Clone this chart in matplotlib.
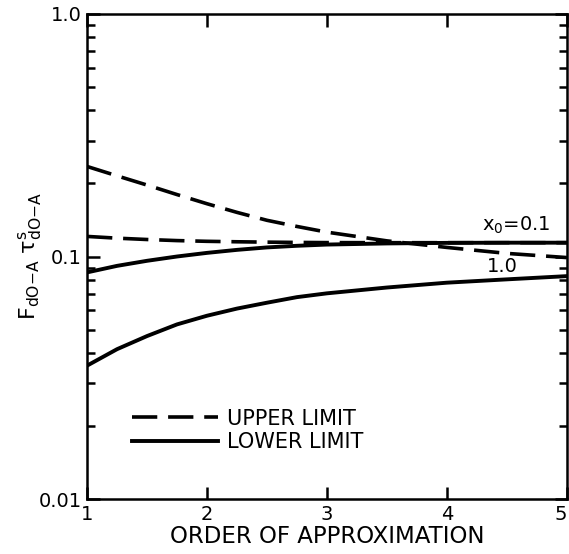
import matplotlib.pyplot as plt

# data
order = [1, 1.25, 1.5, 1.75, 2, 2.25, 2.5, 2.75, 3, 3.5, 4, 4.5, 5]
upper_x10 = [0.235, 0.215, 0.197, 0.180, 0.165, 0.152, 0.141, 0.133, 0.126, 0.116, 0.109, 0.103, 0.099]
upper_x01 = [0.121, 0.119, 0.1175, 0.1163, 0.1155, 0.115, 0.1146, 0.1143, 0.1141, 0.114, 0.114, 0.114, 0.114]
lower_x01 = [0.086, 0.0915, 0.096, 0.100, 0.1035, 0.1065, 0.109, 0.1107, 0.112, 0.1132, 0.1138, 0.114, 0.114]
lower_x10 = [0.0355, 0.0415, 0.047, 0.0525, 0.057, 0.061, 0.0645, 0.068, 0.0705, 0.0745, 0.078, 0.0805, 0.083]

xticks = [1, 2, 3, 4, 5]
yticks = [0.01, 0.1, 1.0]
ytick_labels = ['0.01', '0.1', '1.0']

plt.rcParams['font.family'] = ['DejaVu Sans']

fig = plt.figure(figsize=(5.69, 5.54), dpi=100)
ax = fig.add_axes([0.153, 0.099, 0.843, 0.876])

dash = (7, 3)
ax.plot(order, upper_x10, color='black', lw=2.6, linestyle=(0, dash), label='UPPER LIMIT')
ax.plot(order, upper_x01, color='black', lw=2.6, linestyle=(0, dash))
ax.plot(order, lower_x01, color='black', lw=2.8, label='LOWER LIMIT')
ax.plot(order, lower_x10, color='black', lw=2.8)

ax.set_yscale('log')
ax.set_xlim(1, 5)
ax.set_ylim(0.01, 1.0)
ax.set_xticks(xticks)
ax.set_xticklabels([str(t) for t in xticks])
ax.get_xticklabels()[-1].set_horizontalalignment('right')
ax.set_yticks(yticks)
ax.set_yticklabels(ytick_labels)

ax.tick_params(which='both', direction='in', top=True, right=True, width=1.8,
               labelsize=14)
ax.tick_params(which='major', length=9, pad=4)
ax.tick_params(which='minor', length=6)
for s in ax.spines.values():
    s.set_linewidth(1.8)

ax.set_xlabel('ORDER OF APPROXIMATION', fontsize=16.5, labelpad=1)
ax.set_ylabel(r'$\mathrm{F_{dO{-}A}\ \tau^{s}_{dO{-}A}}$', fontsize=16)
ax.yaxis.set_label_coords(-0.09, 0.5)

# curve labels
ax.text(4.58, 0.135, r'x$_0$=0.1', fontsize=14, ha='center', va='center')
ax.text(4.46, 0.091, '1.0', fontsize=14, ha='center', va='center')

ax.legend(loc='center left', bbox_to_anchor=(0.094, 0.142), frameon=False,
          borderpad=0, borderaxespad=0, handlelength=4.1, handletextpad=0.45,
          labelspacing=0.15, fontsize=15)

fig.savefig('out.png', dpi=100)
